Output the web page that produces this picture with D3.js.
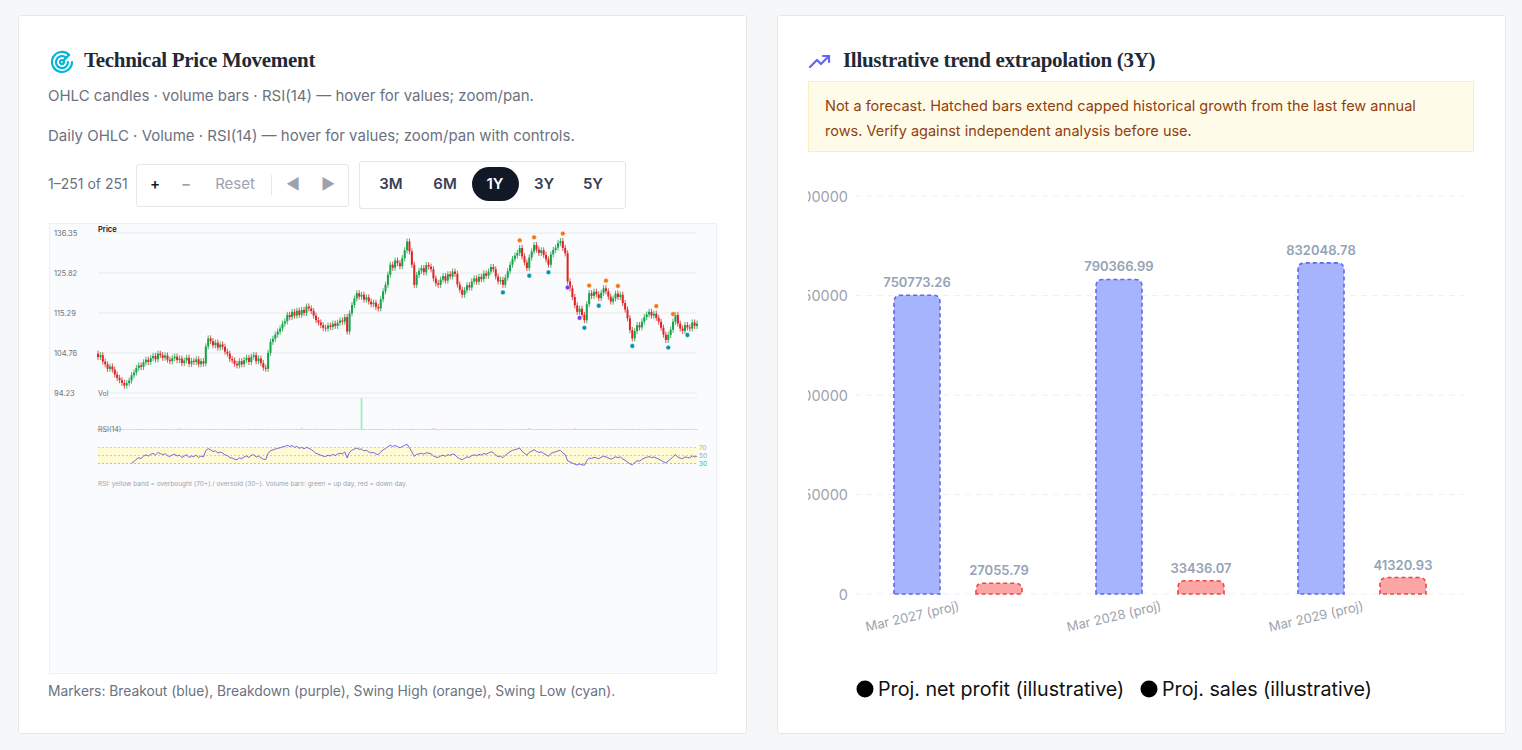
<!DOCTYPE html>
<html><head><meta charset="utf-8">
<script src="https://cdn.jsdelivr.net/npm/d3@7"></script>
<style>
body{margin:0;background:#f6f7f9;font-family:Inter,"Noto Sans",sans-serif;width:1522px;height:750px;overflow:hidden;position:relative}
.card{position:absolute;top:15px;width:727px;height:717px;background:#fff;border:1px solid #e5e7eb;border-radius:3px}
.abs{position:absolute;white-space:nowrap}
.title{font-family:"Liberation Serif","DejaVu Serif",serif;font-weight:bold;font-size:21px;color:#1f2937;letter-spacing:-0.3px}
.sub{font-size:15px;color:#6b7280}
.grp{position:absolute;border:1px solid #e5e7eb;border-radius:3px;background:#fff}
.btn{position:absolute;font-size:15px;font-weight:600;color:#374151;transform:translateX(-50%)}
</style></head><body>
<div class="card" style="left:18px"></div>
<div class="card" style="left:777px"></div>
<div id="page"></div>
<script>
/* DATA */
const closes = [
103.7,104.2,102.5,101.8,100.6,101.2,100.4,99.1,98.2,97.6,
96.9,96.2,96.8,97.5,98.9,99.6,100.8,101.5,101.1,102.3,
103.0,102.4,103.4,104.0,103.1,104.6,104.2,103.5,104.1,103.0,
102.6,103.4,103.8,102.9,103.3,102.1,102.8,103.5,101.9,102.7,
102.4,103.1,101.8,102.6,102.0,106.5,108.6,107.9,106.8,107.5,
106.2,107.0,106.4,105.1,104.6,103.2,102.8,101.9,101.5,102.6,
101.8,102.9,103.5,102.4,103.8,104.2,102.6,103.3,102.1,100.9,
100.6,104.8,107.7,108.5,109.6,110.4,111.2,112.5,113.1,114.8,
114.2,115.6,114.6,115.9,114.8,116.1,115.3,117.0,116.5,115.8,
114.6,113.4,112.8,112.1,111.4,111.2,112.0,111.6,112.5,111.9,
112.7,113.3,113.0,114.2,110.4,115.2,117.4,119.1,120.5,119.6,
120.1,118.8,119.4,118.3,117.6,118.0,116.9,116.5,118.9,121.0,
122.7,125.4,128.0,127.2,129.1,128.4,127.6,129.7,131.8,134.1,
131.5,128.0,122.7,125.3,126.4,127.1,126.0,127.9,127.5,126.8,
124.4,123.1,122.7,124.1,125.0,123.8,125.5,124.9,126.2,125.6,
122.8,121.4,120.1,121.3,122.6,122.0,123.6,124.4,123.5,124.8,
124.2,125.7,125.1,126.2,127.4,126.8,124.9,123.6,124.0,122.7,
124.6,126.3,128.0,129.5,130.4,131.1,132.4,130.2,128.6,127.1,
129.9,131.5,133.2,132.0,131.1,131.8,130.6,129.4,128.0,130.7,
131.9,132.5,133.7,134.2,132.4,131.0,123.6,121.8,119.5,117.3,
115.6,116.4,114.8,113.4,117.6,120.5,119.8,120.9,120.2,119.2,
120.6,121.8,121.0,119.6,118.3,119.1,120.4,119.5,120.1,117.9,
116.2,113.9,110.8,108.6,110.5,112.1,111.5,113.0,114.2,114.9,
115.6,114.6,115.1,114.0,113.0,111.4,109.6,108.2,109.5,110.9,
113.0,114.8,112.5,111.2,110.6,112.1,111.5,111.2,112.8,111.9,
112.5];
const firstOpen = 104.6;
const priceTicks = [136.35, 125.82, 115.29, 104.76, 94.23];
const volumeBase = 3;
const volumeSpikes = [[110, 100], [34, 6], [85, 7], [140, 6], [180, 6], [199, 5]];
const swingHighs = [176, 182, 194, 205, 212, 217, 233, 240];
const swingLows = [169, 180, 188, 203, 209, 223, 238, 246];
const breakdowns = [196, 201];

const periods = ["Mar 2027 (proj)", "Mar 2028 (proj)", "Mar 2029 (proj)"];
const netProfit = [750773.26, 790366.99, 832048.78];
const sales = [27055.79, 33436.07, 41320.93];
const yTicks = [0, 250000, 500000, 750000, 1000000];

const page = d3.select("#page");
function txt(x, y, s, cls, style) {
  return page.append("div").attr("class", "abs " + (cls || "")).attr("style", `left:${x}px;top:${y}px;${style || ""}`).text(s);
}

/* LEFT CARD HEADER */
page.append("div").attr("class","abs").attr("style","left:50px;top:50px").html(
 `<svg width="24" height="24" viewBox="0 0 24 24" fill="none" stroke="#06b6d4" stroke-width="2.2" stroke-linecap="round">
  <path d="M19.1 4.9A10 10 0 1 0 22 12"/><path d="M16.2 7.8A6 6 0 1 0 18 12"/><circle cx="12" cy="12" r="2"/><path d="M13.4 10.6 19 5"/></svg>`);
txt(84, 48, "Technical Price Movement", "title");
txt(48, 86, "OHLC candles · volume bars · RSI(14) — hover for values; zoom/pan.", "sub");
txt(48, 126, "Daily OHLC · Volume · RSI(14) — hover for values; zoom/pan with controls.", "sub");
txt(48, 175, "1–251 of 251", "sub", "font-size:14px");
page.append("div").attr("class","grp").attr("style","left:136px;top:164px;width:211px;height:41px");
[["+",155,"#111827"],["−",186,"#9ca3af"],["Reset",235,"#9ca3af"],["◀",293,"#9ca3af"],["▶",328,"#9ca3af"]].forEach(d=>{
  page.append("div").attr("class","btn abs").attr("style",`left:${d[1]}px;top:174px;color:${d[2]};font-weight:${d[0]=="Reset"?400:600}`).text(d[0]);
});
page.append("div").attr("class","abs").attr("style","left:271px;top:175px;width:1px;height:20px;background:#e5e7eb");
page.append("div").attr("class","grp").attr("style","left:359px;top:161px;width:265px;height:46px");
page.append("div").attr("class","abs").attr("style","left:472px;top:167px;width:47px;height:34px;border-radius:17px;background:#111827");
[["3M",391],["6M",445],["1Y",495],["3Y",544],["5Y",593]].forEach(d=>{
  page.append("div").attr("class","btn abs").attr("style",`left:${d[1]}px;top:174px;color:${d[0]=="1Y"?"#fff":"#374151"}`).text(d[0]);
});
page.append("div").attr("class","abs").attr("style","left:49px;top:223px;width:666px;height:449px;background:#fafbfc;border:1px solid #eef0f3");
txt(48, 683, "Markers: Breakout (blue), Breakdown (purple), Swing High (orange), Swing Low (cyan).", "sub", "font-size:13.8px");

/* CANDLE CHART */
const svg = d3.select("body").append("svg").attr("width", 1522).attr("height", 750)
  .style("position","absolute").style("left",0).style("top",0);
const ohlc = closes.map((c, i) => {
  const o = i ? closes[i - 1] : firstOpen;
  return { i, o, c, h: Math.max(o, c) + 0.8, l: Math.min(o, c) - 0.8 };
});
const x = d3.scaleLinear().domain([0, closes.length - 1]).range([98, 697]);
const y = d3.scaleLinear().domain([94.23, 136.35]).range([393, 233]);
const cg = svg.append("g");
cg.selectAll(".pg").data(priceTicks).join("line").attr("x1", 98).attr("x2", 697)
  .attr("y1", d => y(d)).attr("y2", d => y(d)).attr("stroke", "#e8eaee");
cg.selectAll(".pl").data(priceTicks).join("text").attr("x", 54).attr("y", d => y(d) + 3)
  .attr("font-size", 7.5).attr("fill", "#6b7280").text(d => d.toFixed(2));
cg.append("text").attr("x", 98).attr("y", 232).attr("font-size", 7.5).attr("font-weight", 600).attr("fill", "#111").text("Price");
const col = d => d.c >= d.o ? "#16a34a" : "#dc2626";
cg.selectAll(".wick").data(ohlc).join("line").attr("x1", d => x(d.i)).attr("x2", d => x(d.i))
  .attr("y1", d => y(d.h)).attr("y2", d => y(d.l)).attr("stroke", col).attr("stroke-width", 0.8);
cg.selectAll(".body").data(ohlc).join("rect").attr("x", d => x(d.i) - 1).attr("width", 2)
  .attr("y", d => y(Math.max(d.o, d.c))).attr("height", d => Math.max(0.8, Math.abs(y(d.o) - y(d.c)))).attr("fill", col);
const mk = [
  ...swingHighs.map(i => ({ i, v: ohlc[i].h + 1.2, c: "#f97316" })),
  ...swingLows.map(i => ({ i, v: ohlc[i].l - 1.2, c: "#0891b2" })),
  ...breakdowns.map(i => ({ i, v: ohlc[i].l - 0.8, c: "#7c3aed" }))
];
cg.selectAll(".mk").data(mk).join("circle").attr("cx", d => x(d.i)).attr("cy", d => y(d.v)).attr("r", 2.4)
  .attr("fill", d => d.c).attr("stroke", "#fff").attr("stroke-width", 0.5);

// volume
const vols = closes.map((c, i) => { const s = volumeSpikes.find(v => v[0] === i); return s ? s[1] : volumeBase; });
const yv = d3.scaleLinear().domain([0, 100]).range([430, 398]);
cg.append("line").attr("x1", 98).attr("x2", 697).attr("y1", 398).attr("y2", 398).attr("stroke", "#eceef1");
cg.append("text").attr("x", 98).attr("y", 396).attr("font-size", 7).attr("fill", "#6b7280").text("Vol");
cg.selectAll(".vol").data(ohlc).join("rect").attr("x", d => x(d.i) - 0.9).attr("width", 1.8)
  .attr("y", d => yv(vols[d.i])).attr("height", d => 430 - yv(vols[d.i]))
  .attr("fill", d => d.c >= d.o ? "#86efac" : "#fca5a5").attr("opacity", 0.8);

// RSI(14)
const rsi = []; let ag = 0, al = 0;
for (let i = 1; i < closes.length; i++) {
  const ch = closes[i] - closes[i - 1], g = Math.max(ch, 0), l = Math.max(-ch, 0);
  if (i <= 14) { ag += g / 14; al += l / 14; if (i === 14) rsi.push([i, 100 - 100 / (1 + ag / (al || 1e-9))]); }
  else { ag = (ag * 13 + g) / 14; al = (al * 13 + l) / 14; rsi.push([i, 100 - 100 / (1 + ag / (al || 1e-9))]); }
}
const yr = d3.scaleLinear().domain([30, 70]).range([463.5, 447.5]);
cg.append("text").attr("x", 98).attr("y", 432).attr("font-size", 7).attr("fill", "#6b7280").text("RSI(14)");
cg.append("rect").attr("x", 98).attr("width", 599).attr("y", yr(70)).attr("height", yr(30) - yr(70)).attr("fill", "#fef9c3").attr("opacity", 0.7);
[[70, "#f59e0b"], [50, "#9ca3af"], [30, "#22c55e"]].forEach(([v, c]) => {
  cg.append("line").attr("x1", 98).attr("x2", 697).attr("y1", yr(v)).attr("y2", yr(v)).attr("stroke", c).attr("stroke-width", 0.5).attr("stroke-dasharray", "2,2");
  cg.append("text").attr("x", 699).attr("y", yr(v) + 2.5).attr("font-size", 6.5).attr("fill", c).text(v);
});
cg.append("path").datum(rsi).attr("fill", "none").attr("stroke", "#4f46e5").attr("stroke-width", 0.8)
  .attr("d", d3.line().x(d => x(d[0])).y(d => yr(d[1])));
cg.append("text").attr("x", 98).attr("y", 486).attr("font-size", 6.5).attr("fill", "#9ca3af")
  .text("RSI: yellow band = overbought (70+) / oversold (30−). Volume bars: green = up day, red = down day.");

/* RIGHT CARD */
page.append("div").attr("class","abs").attr("style","left:808px;top:51px").html(
 `<svg width="24" height="22" viewBox="0 0 24 22" fill="none" stroke="#6366f1" stroke-width="2.2" stroke-linecap="round" stroke-linejoin="round">
  <path d="M2 16 9 9l4 4 8-8"/><path d="M15 5h6v6"/></svg>`);
txt(843, 48, "Illustrative trend extrapolation (3Y)", "title");
page.append("div").attr("class","abs").attr("style","left:808px;top:81px;width:632px;height:46px;padding:11px 16px 12px;background:#fefce8;border:1px solid #fbefc0;color:#92400e;font-size:14.5px;line-height:25px;white-space:normal")
  .text("Not a forecast. Hatched bars extend capped historical growth from the last few annual rows. Verify against independent analysis before use.");

const rs = svg.append("svg").attr("x", 808).attr("y", 160).attr("width", 690).attr("height", 560).style("overflow", "hidden");
const oy = 160, ox = 808;
const yb = d3.scaleLinear().domain([0, 1000000]).range([594 - oy, 196 - oy]);
const xb = d3.scaleBand().domain(periods).range([857 - ox, 1463 - ox]);
rs.selectAll(".g").data(yTicks).join("line").attr("x1", 855 - ox).attr("x2", 1465 - ox)
  .attr("y1", d => yb(d)).attr("y2", d => yb(d)).attr("stroke", "#eef0f3").attr("stroke-dasharray", "6,5");
rs.selectAll(".yl").data(yTicks).join("text").attr("x", 848 - ox).attr("y", d => yb(d) + 5.5)
  .attr("text-anchor", "end").attr("font-size", 14.5).attr("fill", "#9ca3af").text(d => d);
const bw = 46;
const rr = (x0, y0, w, h, r) => {
  r = Math.min(r, h);
  return `M${x0},${y0 + h}V${y0 + r}Q${x0},${y0} ${x0 + r},${y0}H${x0 + w - r}Q${x0 + w},${y0} ${x0 + w},${y0 + r}V${y0 + h}Z`;
};
const series = [
  { vals: netProfit, off: -64, fill: "#a5b4fc", stroke: "#6366f1" },
  { vals: sales, off: 18, fill: "#fca5a5", stroke: "#ef4444" }
];
series.forEach(s => {
  const g = rs.append("g");
  g.selectAll("path").data(periods).join("path")
    .attr("d", (p, i) => rr(xb(p) + xb.bandwidth() / 2 + s.off, yb(s.vals[i]), bw, yb(0) - yb(s.vals[i]), 7))
    .attr("fill", s.fill).attr("stroke", s.stroke).attr("stroke-width", 1.6).attr("stroke-dasharray", "4,3");
  g.selectAll("text").data(periods).join("text")
    .attr("x", (p, i) => xb(p) + xb.bandwidth() / 2 + s.off + bw / 2).attr("y", (p, i) => yb(s.vals[i]) - 8)
    .attr("text-anchor", "middle").attr("font-size", 13).attr("font-weight", 600).attr("fill", "#94a3b8")
    .text((p, i) => s.vals[i].toFixed(2));
});
rs.selectAll(".xl").data(periods).join("text")
  .attr("transform", p => `translate(${xb(p) + xb.bandwidth() / 2 + 2},${610 - oy}) rotate(-13)`)
  .attr("text-anchor", "end").attr("font-size", 13).attr("fill", "#9ca3af").text(p => p);

const lg = svg.append("g").attr("font-size", 19.7).attr("fill", "#111");
[["Proj. net profit (illustrative)", 857], ["Proj. sales (illustrative)", 1141]].forEach(([t, lx]) => {
  lg.append("circle").attr("cx", lx + 8).attr("cy", 689).attr("r", 8.5).attr("fill", "#000");
  lg.append("text").attr("x", lx + 21).attr("y", 695.5).text(t);
});
</script></body></html>
